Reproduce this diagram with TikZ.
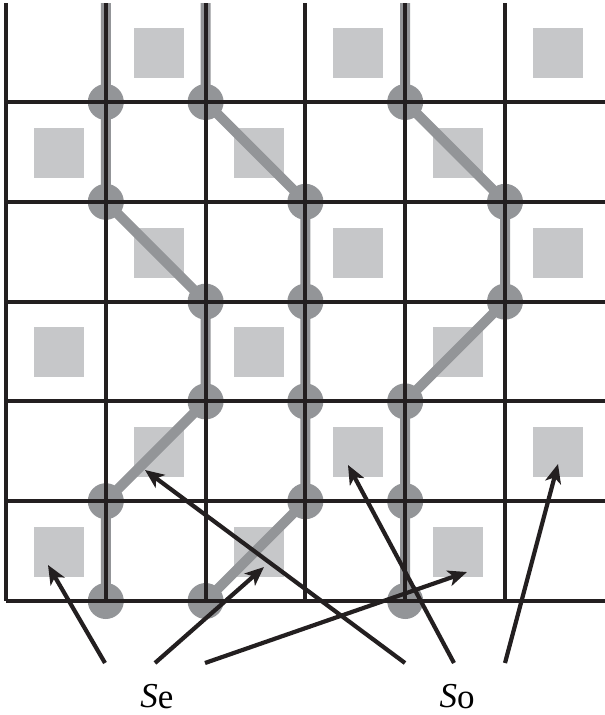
\documentclass[tikz,border=0pt]{standalone}
\usepackage{fontspec}
\setmainfont{Liberation Serif}
\newfontfamily\lblfont{Liberation Serif}
\usetikzlibrary{arrows.meta}
\definecolor{lgray}{HTML}{C6C7C9}
\definecolor{mgray}{HTML}{939598}
\definecolor{ink}{HTML}{231F20}
\begin{document}
\begin{tikzpicture}[x=1pt,y=-1pt,
  sq/.style={fill=lgray, draw=none, minimum size=50pt, inner sep=0pt},
  dot/.style={circle, fill=mgray, draw=none, minimum size=36pt, inner sep=0pt},
  trail/.style={draw=mgray, line width=10pt},
  gridline/.style={draw=ink, line width=4pt},
  ptr/.style={draw=ink, line width=4.2pt, -{Stealth[length=19pt,width=16pt,inset=5pt]}},
  lbl/.style={font=\lblfont\fontsize{35}{35}\selectfont, anchor=base, inner sep=0pt}]
\useasboundingbox (0,0) rectangle (605,715);
% light squares
\foreach \i/\j in {1/0,3/0,5/0,0/1,2/1,4/1,1/2,3/2,5/2,0/3,2/3,4/3,1/4,3/4,5/4,0/5,2/5,4/5}
  \node[sq] (s\i\j) at ({59+99.8*\i},{53+99.8*\j}) {};
% dots
\foreach \i/\j in {1/1,1/2,2/3,2/4,1/5,1/6, 2/1,3/2,3/3,3/4,3/5,2/6, 4/1,5/2,5/3,4/4,4/5,4/6}
  \coordinate (p\i\j) at ({6+99.8*\i},{2.2+99.8*\j});
\coordinate (topA) at (105.8,3);
\coordinate (topB) at (205.6,3);
\coordinate (topC) at (405.2,3);
% trails
\draw[trail] (topA) -- (p11) -- (p12) -- (p23) -- (p24) -- (p15) -- (p16);
\draw[trail] (topB) -- (p21) -- (p32) -- (p33) -- (p34) -- (p35) -- (p26);
\draw[trail] (topC) -- (p41) -- (p52) -- (p53) -- (p44) -- (p45) -- (p46);
\foreach \i/\j in {1/1,1/2,2/3,2/4,1/5,1/6, 2/1,3/2,3/3,3/4,3/5,2/6, 4/1,5/2,5/3,4/4,4/5,4/6}
  \node[dot] (d\i\j) at (p\i\j) {};
% grid
\foreach \i in {0,...,5}
  \draw[gridline] ({6+99.8*\i},3) -- ({6+99.8*\i},601);
\foreach \j in {1,...,6}
  \draw[gridline] (6,{2.2+99.8*\j}) -- (605,{2.2+99.8*\j});
% labels
\node[lbl] (se) at (157,707) {\textit{S}\raisebox{-1.5pt}{e}};
\node[lbl] (so) at (457,707) {\textit{S}\raisebox{-1.5pt}{o}};
% arrow starts and tips
\coordinate (a1) at (105,663); \coordinate (t1) at (48,565);
\coordinate (a2) at (155,663); \coordinate (t2) at (264,567);
\coordinate (a3) at (205,663); \coordinate (t3) at (467,572);
\coordinate (a4) at (405,663); \coordinate (t4) at (145,470);
\coordinate (a5) at (454,663); \coordinate (t5) at (348,465);
\coordinate (a6) at (505,663); \coordinate (t6) at (558,464);
\foreach \k in {1,...,6}
  \draw[ptr] (a\k) -- (t\k);
\end{tikzpicture}
\end{document}
